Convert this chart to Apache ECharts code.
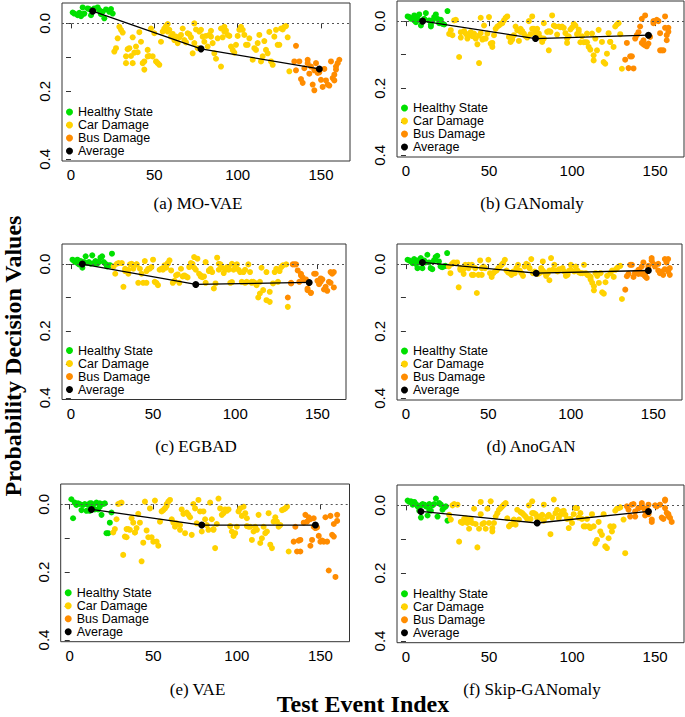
<!DOCTYPE html>
<html><head><meta charset="utf-8">
<script src="https://cdn.jsdelivr.net/npm/echarts@6/dist/echarts.min.js"></script>
<style>html,body{margin:0;padding:0;background:#fff}#c{width:685px;height:717px}</style>
</head><body><div id="c"></div>
<script>
// ---- tick labels / names ----
const xTicks = [0, 50, 100, 150];
const yTicks = [0, 0.1, 0.2, 0.3, 0.4];
const yLabelTicks = [0, 0.2, 0.4];
const panelTitles = ['(a) MO-VAE', '(b) GANomaly', '(c) EGBAD', '(d) AnoGAN', '(e) VAE', '(f) Skip-GANomaly'];
const legendNames = ['Healthy State', 'Car Damage', 'Bus Damage', 'Average'];
const xTitle = 'Test Event Index';
const yTitle = 'Probability Decision Values';

// ---- (a) MO-VAE ----
const aHealthy = [[1,-0.032],[2,-0.029],[4,-0.024],[5,-0.031],[6,-0.021],[7,-0.027],[7,-0.047],[8,-0.029],[10,-0.044],[11,-0.042],[12,-0.024],[13,-0.039],[14,-0.044],[16,-0.047],[17,-0.039],[18,-0.027],[19,-0.034],[20,-0.015],[21,-0.041],[23,-0.034],[24,-0.042],[25,-0.029]];
const aCar = [[26,0.083],[27,0.073],[28,0.044],[29,0.010],[30,0.019],[31,0.027],[33,0.117],[33,0.097],[34,0.076],[35,0.073],[36,0.096],[37,0.041],[37,0.117],[38,0.086],[39,0.068],[40,0.085],[41,0.026],[42,0.054],[43,0.117],[44,0.136],[44,0.112],[46,0.078],[46,0.097],[47,0.096],[48,0.015],[49,0.097],[50,0.029],[51,0.112],[52,0.117],[53,0.122],[54,0.054],[55,0.024],[56,0.015],[57,0.008],[58,0.024],[58,0.002],[59,0.019],[60,0.039],[61,0.031],[62,0.049],[63,0.039],[64,0.058],[65,0.041],[66,0.034],[67,0.015],[68,0.049],[69,0.056],[70,0.029],[71,0.032],[72,0.041],[73,0.088],[74,0.000],[74,0.058],[75,0.018],[76,0.073],[77,0.024],[78,0.019],[79,0.039],[80,0.054],[81,0.037],[82,0.068],[83,0.034],[84,0.022],[84,0.039],[85,0.058],[86,0.088],[87,0.104],[88,0.044],[90,0.127],[90,0.015],[91,0.041],[92,0.024],[92,0.010],[93,0.021],[94,0.034],[95,0.037],[96,0.068],[97,0.078],[98,0.086],[99,0.063],[100,0.037],[101,0.019],[102,0.010],[103,0.019],[104,0.034],[105,0.063],[106,0.063],[107,0.044],[109,0.107],[110,0.073],[111,0.078],[112,0.058],[113,0.034],[114,0.112],[115,0.097],[116,0.052],[117,0.078],[118,0.088],[119,0.025],[120,0.112],[121,0.122],[122,0.039],[123,0.019],[124,0.063],[125,0.063],[126,0.015],[127,0.018],[128,0.010],[129,0.008],[130,0.041],[131,0.141]];
const aBus = [[135,0.066],[134,0.112],[135,0.138],[137,0.112],[138,0.164],[139,0.175],[140,0.132],[142,0.107],[142,0.117],[143,0.148],[144,0.127],[145,0.180],[146,0.197],[146,0.138],[147,0.117],[148,0.146],[149,0.144],[150,0.166],[151,0.187],[152,0.134],[153,0.168],[154,0.180],[155,0.183],[156,0.112],[157,0.161],[158,0.168],[158,0.151],[159,0.136],[159,0.127],[160,0.117],[161,0.107]];
const aAvg = [[13,-0.036],[78,0.075],[149,0.134]];

// ---- (b) GANomaly ----
const bHealthy = [[1,-0.014],[2,-0.012],[3,-0.007],[5,-0.002],[5,-0.017],[6,0.003],[7,-0.007],[8,-0.020],[9,0.013],[10,0.000],[11,-0.007],[12,-0.024],[14,-0.002],[15,0.010],[15,0.016],[16,-0.002],[17,-0.012],[18,-0.020],[19,-0.007],[20,0.006],[21,-0.004],[22,0.008],[23,0.010],[25,-0.030]];
const bCar = [[26,0.038],[27,0.027],[28,0.042],[29,-0.002],[30,-0.004],[32,0.107],[33,0.049],[33,0.033],[35,0.030],[36,0.037],[37,0.052],[37,0.043],[38,0.040],[39,0.033],[40,0.045],[41,0.037],[42,0.052],[43,0.069],[44,0.125],[44,0.043],[45,-0.010],[45,0.036],[46,0.055],[47,0.052],[47,0.013],[48,0.052],[49,0.037],[50,-0.012],[51,0.067],[52,0.077],[52,0.065],[53,0.042],[54,0.023],[55,0.016],[56,0.013],[57,0.008],[58,0.006],[59,-0.002],[60,-0.010],[61,-0.014],[62,0.047],[63,0.062],[64,0.055],[65,0.042],[66,0.016],[67,0.027],[68,0.059],[69,0.023],[69,0.032],[70,0.030],[71,0.037],[72,0.045],[73,0.049],[74,0.000],[75,0.039],[76,0.023],[76,-0.014],[77,0.023],[78,0.036],[79,0.023],[80,0.037],[81,0.049],[82,0.062],[83,0.052],[83,0.006],[85,0.032],[86,0.030],[86,0.087],[87,0.032],[88,-0.017],[89,0.013],[90,0.016],[91,0.040],[92,0.016],[93,0.018],[94,0.016],[95,0.020],[96,0.036],[97,0.052],[97,0.065],[98,0.045],[99,0.025],[100,0.019],[101,0.008],[102,0.013],[103,0.039],[104,0.025],[104,0.032],[105,0.063],[106,0.045],[107,0.063],[108,0.063],[109,0.037],[109,0.063],[110,0.077],[111,0.085],[112,0.037],[113,0.117],[113,0.102],[114,0.052],[115,0.087],[116,0.026],[118,0.062],[119,0.122],[120,0.127],[121,0.097],[122,0.036],[123,0.062],[123,0.062],[125,0.077],[126,0.016],[127,0.010],[128,0.006],[129,0.039],[130,0.142]];
const bBus = [[132,0.115],[133,0.065],[134,0.140],[135,0.105],[136,0.105],[137,0.141],[138,0.052],[139,0.042],[140,0.033],[141,0.016],[142,0.065],[142,-0.007],[143,0.069],[143,0.057],[144,0.072],[144,-0.017],[145,0.075],[146,0.067],[147,0.047],[149,0.006],[149,0.000],[151,-0.004],[152,0.000],[153,0.087],[153,0.036],[154,0.087],[155,0.087],[156,-0.014],[156,0.020],[157,0.057],[157,0.042],[158,0.020],[158,0.032]];
const bAvg = [[10,0.000],[78,0.052],[146,0.042]];

// ---- (c) EGBAD ----
const cHealthy = [[1,-0.013],[2,-0.009],[3,-0.006],[4,-0.003],[4,-0.013],[5,0.001],[6,-0.009],[7,0.011],[8,-0.006],[9,-0.023],[10,-0.003],[11,-0.006],[12,-0.001],[13,-0.026],[14,-0.003],[15,-0.009],[16,-0.001],[17,-0.006],[18,-0.019],[19,-0.023],[20,-0.006],[21,-0.001],[22,0.007],[23,0.004],[24,0.004],[25,-0.031]];
const cCar = [[26,0.007],[27,0.029],[28,-0.001],[29,-0.003],[31,-0.003],[32,0.068],[33,0.014],[33,0.021],[35,0.029],[35,0.017],[36,0.001],[37,-0.001],[38,0.014],[40,0.001],[40,0.001],[41,0.056],[42,0.014],[43,0.029],[44,0.056],[45,-0.009],[46,0.056],[46,0.021],[47,0.014],[48,0.014],[49,0.009],[50,-0.013],[51,0.053],[52,0.056],[53,0.063],[54,0.017],[55,0.014],[56,0.017],[57,0.004],[58,0.011],[59,-0.001],[59,-0.003],[60,-0.011],[61,0.019],[62,0.056],[63,0.050],[64,0.034],[65,0.031],[66,0.056],[67,0.014],[68,0.037],[69,0.034],[70,0.037],[71,0.040],[72,0.009],[73,-0.003],[74,-0.001],[75,0.011],[75,-0.021],[76,0.017],[77,-0.016],[78,0.029],[79,0.034],[79,0.037],[80,0.039],[81,0.037],[82,0.056],[82,-0.006],[84,0.019],[84,0.021],[85,0.014],[86,0.024],[87,0.073],[88,0.058],[89,-0.019],[90,0.017],[90,-0.001],[91,0.001],[92,0.011],[93,0.027],[94,0.017],[95,0.009],[96,0.017],[96,0.009],[97,0.056],[98,-0.001],[98,0.054],[99,0.017],[100,0.004],[101,0.001],[102,0.017],[103,0.024],[104,0.053],[105,0.024],[106,0.017],[106,0.056],[107,0.053],[108,0.001],[109,0.024],[110,0.053],[110,0.056],[111,0.053],[112,0.056],[113,0.063],[114,0.100],[115,0.088],[115,0.053],[116,0.011],[117,0.078],[119,0.024],[119,0.108],[121,0.113],[121,0.083],[123,0.058],[124,0.024],[125,0.014],[126,0.053],[127,0.021],[128,0.009],[129,0.004],[131,0.001],[132,0.128]];
const cBus = [[132,0.100],[134,0.058],[134,0.056],[135,0.001],[136,0.001],[137,0.001],[138,0.019],[139,0.053],[140,0.029],[140,0.034],[141,0.040],[142,0.048],[143,0.046],[144,0.073],[144,0.078],[145,0.056],[146,0.086],[146,0.086],[148,0.029],[149,0.029],[150,0.050],[151,0.060],[152,0.053],[152,0.043],[153,0.046],[154,0.076],[155,0.068],[156,0.080],[157,0.053],[158,0.056],[158,0.024],[159,0.029],[160,0.070],[160,0.024]];
const cAvg = [[7,0.000],[76,0.061],[145,0.055]];

// ---- (d) AnoGAN ----
const dHealthy = [[1,-0.013],[2,-0.011],[3,-0.008],[4,-0.003],[5,-0.015],[6,-0.001],[7,0.012],[7,-0.011],[8,-0.005],[9,-0.018],[10,0.012],[11,-0.011],[12,-0.005],[13,-0.028],[14,-0.005],[15,0.012],[16,0.015],[17,-0.011],[18,-0.021],[19,-0.025],[20,-0.008],[21,0.007],[22,0.009],[23,0.007],[24,0.005],[25,-0.033]];
const dCar = [[26,0.007],[27,0.027],[28,-0.001],[29,-0.005],[31,-0.005],[32,0.069],[33,0.012],[33,0.017],[35,0.029],[35,0.015],[36,0.002],[38,0.002],[38,0.012],[40,0.002],[40,0.032],[41,0.032],[42,0.012],[43,0.086],[44,0.032],[45,-0.011],[46,0.032],[46,0.012],[47,0.007],[48,0.012],[50,-0.013],[51,0.027],[52,0.038],[53,0.027],[54,0.022],[55,0.019],[56,0.012],[57,0.007],[58,0.002],[59,-0.003],[60,-0.013],[61,0.019],[62,0.025],[63,0.027],[64,0.032],[65,0.022],[66,0.027],[67,0.012],[68,0.002],[69,0.019],[70,0.027],[71,0.035],[72,0.007],[73,-0.001],[74,0.002],[75,0.012],[76,-0.015],[77,0.027],[78,0.022],[79,0.027],[80,0.029],[81,0.027],[82,0.012],[83,-0.008],[83,0.019],[84,0.025],[85,0.035],[86,0.027],[87,0.048],[87,0.019],[88,-0.018],[89,0.017],[90,0.002],[91,0.019],[92,0.022],[93,0.015],[95,0.012],[96,0.022],[97,0.035],[98,0.027],[98,0.032],[99,0.019],[100,0.017],[100,0.002],[102,0.022],[103,0.007],[104,0.019],[105,0.025],[106,0.027],[107,0.027],[108,0.002],[109,0.027],[110,0.032],[111,0.035],[112,0.038],[112,0.046],[113,0.056],[114,0.078],[114,0.066],[115,0.027],[116,0.035],[117,0.056],[118,0.027],[119,0.084],[120,0.088],[121,0.054],[122,0.035],[124,0.027],[125,0.019],[126,0.038],[127,0.017],[128,0.012],[129,0.007],[130,0.005],[131,0.104]];
const dBus = [[133,0.076],[134,0.036],[135,0.029],[136,0.002],[137,0.002],[138,0.038],[139,0.025],[139,0.027],[141,0.017],[141,0.029],[142,0.022],[143,0.029],[143,0.007],[144,-0.005],[145,0.027],[145,0.036],[145,0.035],[146,0.041],[147,0.012],[147,0.005],[149,-0.018],[149,-0.011],[150,-0.001],[151,0.007],[153,-0.001],[153,0.019],[154,0.027],[155,0.022],[156,0.032],[157,-0.015],[157,0.015],[158,-0.005],[159,0.022],[159,-0.015],[160,0.032],[160,0.012]];
const dAvg = [[10,-0.005],[79,0.027],[147,0.019]];

// ---- (e) VAE ----
const eHealthy = [[1,-0.015],[2,0.041],[3,-0.005],[4,0.002],[5,-0.003],[6,-0.001],[7,0.017],[8,0.002],[9,-0.001],[10,0.019],[11,0.002],[12,-0.003],[12,0.019],[13,-0.003],[14,0.002],[15,0.015],[16,-0.005],[17,0.015],[18,-0.003],[18,0.007],[19,0.031],[20,-0.001],[21,-0.003],[22,0.085],[23,0.085],[24,0.054],[25,0.024]];
const eCar = [[26,0.083],[27,0.073],[28,0.044],[29,-0.001],[30,-0.003],[31,-0.005],[32,0.149],[33,0.095],[34,0.073],[34,0.097],[35,0.073],[36,0.075],[37,0.041],[38,0.054],[39,0.083],[39,0.083],[40,0.070],[41,0.028],[42,0.054],[43,0.168],[44,0.113],[45,-0.008],[46,0.077],[47,0.097],[48,0.012],[49,0.097],[50,0.110],[51,-0.011],[52,0.110],[53,0.122],[54,0.051],[55,0.021],[56,0.017],[57,0.012],[58,0.005],[58,-0.001],[59,-0.008],[60,-0.013],[61,0.044],[62,0.054],[63,0.066],[64,0.056],[66,0.061],[66,0.075],[67,0.015],[68,0.028],[69,0.085],[70,0.024],[71,0.031],[72,0.038],[73,0.090],[74,-0.001],[75,0.012],[76,0.056],[77,-0.013],[78,0.021],[79,0.080],[80,0.021],[81,0.044],[82,0.061],[83,0.075],[84,-0.005],[85,0.044],[86,0.073],[86,0.075],[87,0.129],[88,0.058],[89,-0.017],[90,0.012],[91,0.031],[92,0.026],[93,0.015],[94,0.019],[95,0.015],[96,0.064],[97,0.080],[98,0.093],[99,0.085],[100,0.066],[101,0.021],[102,0.012],[103,0.034],[104,0.007],[105,0.026],[106,0.064],[106,0.041],[107,0.066],[108,0.066],[109,0.105],[110,0.080],[111,0.066],[112,0.075],[113,0.031],[114,0.114],[115,0.100],[116,0.066],[117,0.085],[118,0.080],[119,0.026],[120,0.119],[121,0.129],[122,0.051],[123,0.038],[124,0.051],[125,0.066],[126,0.061],[127,0.017],[128,0.015],[129,0.012],[130,0.007],[131,0.139]];
const eBus = [[134,0.110],[135,0.066],[136,0.139],[137,0.107],[138,0.105],[138,0.139],[140,0.054],[141,0.031],[142,0.051],[143,0.038],[144,0.122],[144,0.044],[145,0.105],[146,0.066],[146,0.041],[147,0.070],[148,0.068],[149,0.093],[150,0.110],[151,0.107],[152,0.110],[153,0.038],[154,0.110],[155,0.195],[156,0.034],[157,0.090],[158,0.095],[158,0.058],[159,0.214],[160,0.031],[160,0.049]];
const eAvg = [[13,0.015],[79,0.061],[147,0.061]];

// ---- (f) Skip-GANomaly ----
const fHealthy = [[1,-0.014],[2,-0.010],[3,-0.012],[4,-0.002],[5,-0.010],[6,-0.004],[7,0.003],[8,0.016],[9,0.000],[9,0.036],[10,-0.004],[11,-0.002],[12,0.003],[13,0.030],[14,-0.004],[14,0.013],[15,0.016],[16,0.000],[17,-0.004],[18,-0.020],[19,0.033],[20,-0.007],[21,-0.002],[22,0.013],[23,0.006],[24,0.003],[25,0.045]];
const fCar = [[26,0.028],[27,0.042],[28,0.000],[29,-0.004],[31,-0.002],[32,0.107],[33,0.049],[34,0.052],[35,0.040],[36,0.038],[37,0.042],[37,0.052],[38,0.069],[39,0.040],[40,0.052],[41,0.010],[42,0.055],[43,0.124],[44,0.069],[45,-0.010],[45,0.026],[46,0.055],[47,0.052],[48,0.069],[49,0.010],[50,0.052],[51,-0.012],[52,0.067],[52,0.077],[53,0.052],[54,0.033],[55,0.023],[56,0.013],[57,0.008],[58,0.003],[59,-0.002],[60,-0.007],[61,0.038],[62,0.062],[63,0.057],[64,0.055],[65,0.042],[66,0.057],[67,0.013],[68,0.042],[69,0.020],[70,0.023],[71,0.028],[72,0.033],[73,0.040],[74,0.000],[75,0.040],[76,0.023],[76,-0.012],[77,0.023],[78,0.026],[79,0.037],[80,0.033],[81,0.037],[82,0.028],[83,0.045],[83,-0.002],[85,0.033],[86,0.028],[87,0.085],[88,0.036],[89,-0.017],[90,0.023],[91,0.013],[92,0.037],[93,0.028],[94,0.018],[95,0.016],[96,0.028],[97,0.040],[98,0.067],[99,0.040],[100,0.052],[101,0.026],[102,0.008],[103,0.008],[104,0.036],[105,0.023],[106,0.040],[107,0.062],[108,0.062],[109,0.040],[110,0.062],[111,0.067],[112,0.026],[113,0.062],[114,0.112],[115,0.102],[116,0.049],[117,0.077],[118,0.087],[119,0.026],[120,0.121],[121,0.126],[122,0.097],[123,0.062],[124,0.077],[125,0.062],[126,0.016],[127,0.010],[128,0.008],[129,0.006],[131,0.042],[132,0.141]];
const fBus = [[133,0.003],[134,0.013],[135,0.033],[136,-0.002],[137,-0.004],[138,0.033],[138,0.018],[140,0.008],[140,0.008],[142,0.000],[142,-0.007],[143,0.008],[144,0.016],[144,0.030],[145,0.010],[146,-0.002],[146,0.026],[148,0.042],[148,0.049],[150,0.000],[151,0.003],[153,-0.002],[154,0.036],[155,0.040],[156,-0.014],[156,0.008],[157,0.022],[158,0.026],[158,0.032],[159,0.037],[160,0.049],[156,-0.017]];
const fAvg = [[9,0.018],[79,0.052],[146,0.018]];

// ---- layout ----
const panels = [
  {h: aHealthy, c: aCar, b: aBus, m: aAvg},
  {h: bHealthy, c: bCar, b: bBus, m: bAvg},
  {h: cHealthy, c: cCar, b: cBus, m: cAvg},
  {h: dHealthy, c: dCar, b: dBus, m: dAvg},
  {h: eHealthy, c: eCar, b: eBus, m: eAvg},
  {h: fHealthy, c: fCar, b: fBus, m: fAvg}
];
const boxes = [[62,3,288,158],[397,1,287,156],[62,244,284,155.5],[397,244,285,156],[60.7,484,288.8,157.7],[397,485,287,157.7]];
const capPos = [[198,203],[532,203],[196,446],[531,446],[197.5,689],[532,689]];
const colHealthy = '#00E000', colCar = '#FFD200', colBus = '#FF8C00', colAvg = '#000000';
const sans = 'Liberation Sans, Arial, sans-serif';
const serif = 'Liberation Serif, Times New Roman, serif';

const grid = [], xAxis = [], yAxis = [], series = [], legend = [], graphic = [];
panels.forEach((p, i) => {
  const [L, T, W, H] = boxes[i];
  grid.push({left: L, top: T, width: W, height: H, show: true, borderColor: '#333', borderWidth: 1, backgroundColor: 'transparent', containLabel: false});
  xAxis.push({
    gridIndex: i, type: 'value', min: -5.4, max: 167.4,
    axisLine: {show: false}, splitLine: {show: false},
    axisTick: {show: true, inside: false, length: 5, customValues: xTicks, lineStyle: {color: '#333', width: 1}},
    axisLabel: {customValues: xTicks, fontSize: 15, fontFamily: sans, color: '#000', margin: 6}
  });
  yAxis.push({
    gridIndex: i, type: 'value', inverse: true, min: -0.06, max: 0.405,
    axisLine: {show: false}, splitLine: {show: false},
    axisTick: {show: true, inside: false, length: 5, customValues: yTicks, lineStyle: {color: '#333', width: 1}},
    axisLabel: {customValues: yLabelTicks, rotate: 90, fontSize: 15, fontFamily: sans, color: '#000', margin: 10,
      formatter: v => Number(v).toFixed(1)}
  });
  series.push({
    name: legendNames[0], type: 'scatter', xAxisIndex: i, yAxisIndex: i, data: p.h,
    symbolSize: 6, itemStyle: {color: colHealthy, opacity: 1},
    markLine: {silent: true, symbol: 'none', label: {show: false},
      lineStyle: {type: [2, 3], color: '#555', width: 1}, data: [{yAxis: 0}]}
  });
  series.push({name: legendNames[1], type: 'scatter', xAxisIndex: i, yAxisIndex: i, data: p.c,
    symbolSize: 6, itemStyle: {color: colCar, opacity: 1}});
  series.push({name: legendNames[2], type: 'scatter', xAxisIndex: i, yAxisIndex: i, data: p.b,
    symbolSize: 6, itemStyle: {color: colBus, opacity: 1}});
  series.push({name: legendNames[3], type: 'line', xAxisIndex: i, yAxisIndex: i, data: p.m,
    symbol: 'circle', symbolSize: 7, showSymbol: true, z: 5,
    lineStyle: {color: colAvg, width: 1.3}, itemStyle: {color: colAvg}});
  legend.push({
    data: legendNames, orient: 'vertical', left: L + 4, top: T + H - 55.5,
    icon: 'circle', itemWidth: 7, itemHeight: 7, itemGap: 0, padding: 0, selectedMode: false,
    textStyle: {fontSize: 12.5, lineHeight: 12.3, fontFamily: sans, color: '#000'}
  });
  graphic.push({type: 'text', x: capPos[i][0], y: capPos[i][1],
    style: {text: panelTitles[i], font: '17px ' + serif, fill: '#000', textAlign: 'center', textVerticalAlign: 'middle'}});
});
graphic.push({type: 'text', x: 363, y: 704,
  style: {text: xTitle, font: 'bold 24px ' + serif, fill: '#000', textAlign: 'center', textVerticalAlign: 'middle'}});
graphic.push({type: 'text', x: 13, y: 356, rotation: Math.PI / 2,
  style: {text: yTitle, font: 'bold 24px ' + serif, fill: '#000', textAlign: 'center', textVerticalAlign: 'middle'}});

const chart = echarts.init(document.getElementById('c'), null, {renderer: 'svg'});
chart.setOption({animation: false, backgroundColor: '#fff', grid, xAxis, yAxis, series, legend, graphic});
</script>
</body></html>
